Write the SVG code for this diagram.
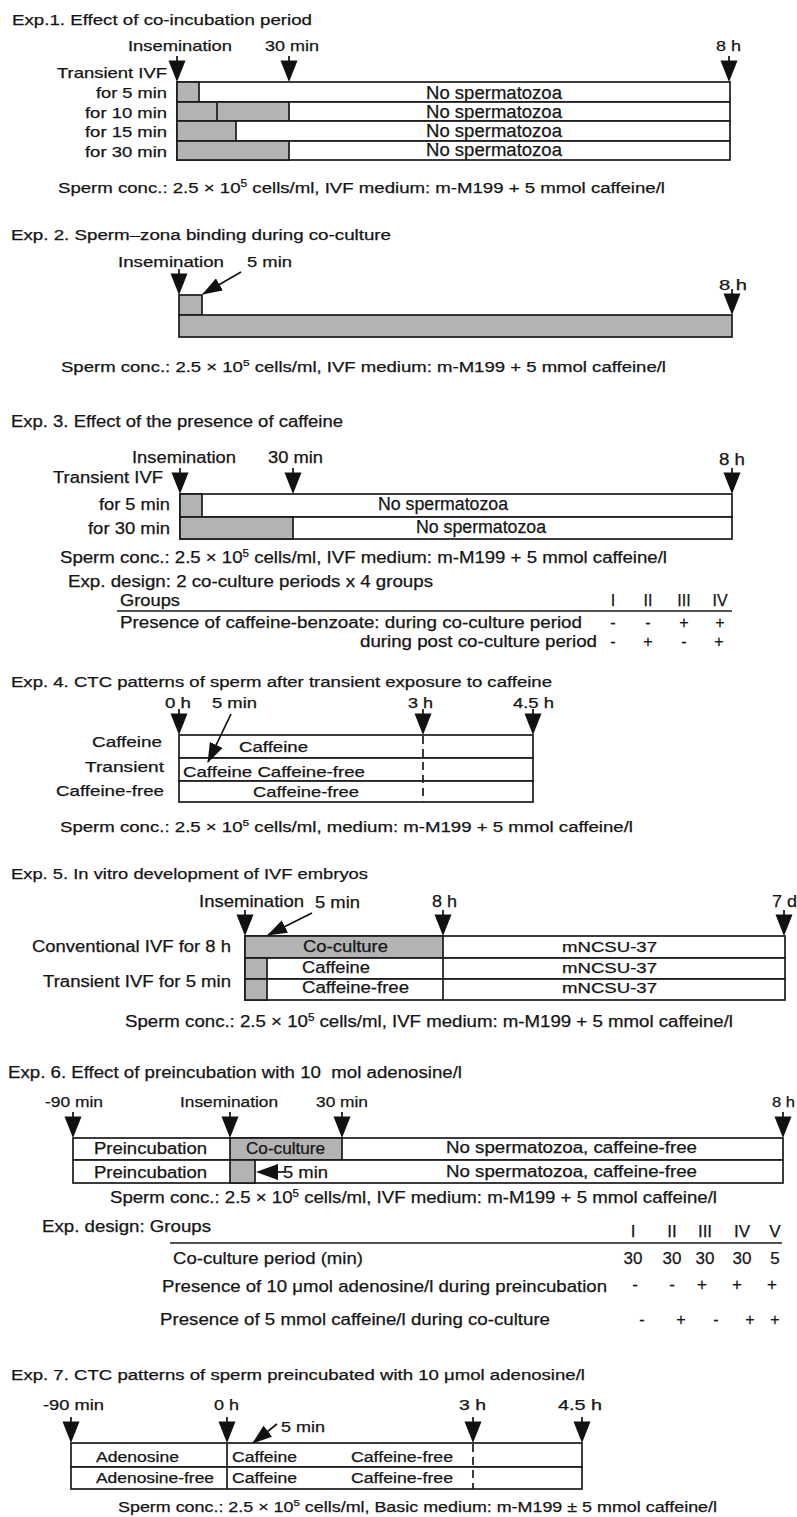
<svg xmlns="http://www.w3.org/2000/svg" width="797" height="1517" viewBox="0 0 797 1517">
<style>
.t{font-family:"Liberation Sans",Arial,Helvetica,sans-serif;fill:#151515;stroke:#151515;stroke-width:0.25}
.f14{font-size:14px}.f15{font-size:15px}.f155{font-size:15.5px}.f16{font-size:16px}.f17{font-size:17px}.f18{font-size:18px}
.m{text-anchor:middle}
.w{fill:#fff;stroke:#1b1b1b;stroke-width:1.7}
.g{fill:#b3b3b3;stroke:#1b1b1b;stroke-width:1.7}
.ln{stroke:#1b1b1b;stroke-width:1.7;fill:none}
.ds{stroke:#1b1b1b;stroke-width:1.7;stroke-dasharray:8 5;fill:none}
.ar{stroke:#111;stroke-width:1.7;fill:none;marker-end:url(#ah)}
.hd{fill:#111}
</style>
<defs>
<marker id="ah" viewBox="0 0 20 14" refX="19" refY="7" markerWidth="20" markerHeight="14" markerUnits="userSpaceOnUse" orient="auto"><path d="M0,0 L20,7 L0,14 Z" fill="#111"/></marker>
<g id="down"><line x1="0" y1="-26" x2="0" y2="-19" stroke="#111" stroke-width="1.7"/><path d="M-8.5,-21.5 L8.5,-21.5 L0,0 Z" fill="#111"/></g>
</defs>

<!-- ===== Exp 1 ===== -->
<g id="exp1">
<text id="e1-title" class="t f155" x="12" y="25" textLength="300" lengthAdjust="spacingAndGlyphs">Exp.1. Effect of co-incubation period</text>
<g id="e1-times">
<text class="t f15" x="128" y="51" textLength="104" lengthAdjust="spacingAndGlyphs">Insemination</text>
<text class="t f15" x="265" y="51" textLength="54" lengthAdjust="spacingAndGlyphs">30 min</text>
<text class="t f15" x="716" y="51" textLength="25" lengthAdjust="spacingAndGlyphs">8 h</text>
</g>
<text id="e1-label" class="t f15" x="57" y="78" textLength="110" lengthAdjust="spacingAndGlyphs">Transient IVF</text>
<g id="e1-row1">
<rect class="w" x="177" y="82" width="553" height="20"/><rect class="g" x="177" y="82" width="22" height="20"/>
<text class="t f15" x="96" y="98" textLength="71" lengthAdjust="spacingAndGlyphs">for 5 min</text>
<text class="t f18" x="426" y="99" textLength="136" lengthAdjust="spacingAndGlyphs">No spermatozoa</text>
</g>
<g id="e1-row2">
<rect class="w" x="177" y="102" width="553" height="19"/><rect class="g" x="177" y="102" width="112" height="19"/>
<line class="ln" x1="217" y1="102" x2="217" y2="121"/>
<text class="t f15" x="85" y="118" textLength="82" lengthAdjust="spacingAndGlyphs">for 10 min</text>
<text class="t f18" x="426" y="118" textLength="136" lengthAdjust="spacingAndGlyphs">No spermatozoa</text>
</g>
<g id="e1-row3">
<rect class="w" x="177" y="121" width="553" height="20"/><rect class="g" x="177" y="121" width="59" height="20"/>
<text class="t f15" x="85" y="137" textLength="82" lengthAdjust="spacingAndGlyphs">for 15 min</text>
<text class="t f18" x="426" y="137" textLength="136" lengthAdjust="spacingAndGlyphs">No spermatozoa</text>
</g>
<g id="e1-row4">
<rect class="w" x="177" y="141" width="553" height="19"/><rect class="g" x="177" y="141" width="112" height="19"/>
<text class="t f15" x="85" y="157" textLength="82" lengthAdjust="spacingAndGlyphs">for 30 min</text>
<text class="t f18" x="426" y="156" textLength="136" lengthAdjust="spacingAndGlyphs">No spermatozoa</text>
</g>
<text id="e1-note" class="t f155" x="58" y="193" textLength="607" lengthAdjust="spacingAndGlyphs">Sperm conc.: 2.5 × 10<tspan dy="-6" font-size="10">5</tspan><tspan dy="6"> cells/ml, IVF medium: m-M199 + 5 mmol caffeine/l</tspan></text>
</g>

<!-- ===== Exp 2 ===== -->
<g id="exp2">
<text id="e2-title" class="t f14" x="11" y="240" textLength="380" lengthAdjust="spacingAndGlyphs">Exp. 2. Sperm–zona binding during co-culture</text>
<g id="e2-times">
<text class="t f14" x="118" y="267" textLength="106" lengthAdjust="spacingAndGlyphs">Insemination</text>
<text class="t f14" x="247" y="267" textLength="45" lengthAdjust="spacingAndGlyphs">5 min</text>
<text class="t f14" x="719" y="290" textLength="28" lengthAdjust="spacingAndGlyphs">8 h</text>
</g>
<g id="e2-box"><rect class="g" x="179" y="295" width="23" height="20"/></g>
<g id="e2-bar"><rect class="g" x="179" y="315" width="553" height="22"/></g>
<text id="e2-note" class="t f14" x="61" y="372" textLength="605" lengthAdjust="spacingAndGlyphs">Sperm conc.: 2.5 × 10<tspan dy="-6" font-size="9">5</tspan><tspan dy="6"> cells/ml, IVF medium: m-M199 + 5 mmol caffeine/l</tspan></text>
</g>

<!-- ===== Exp 3 ===== -->
<g id="exp3">
<text id="e3-title" class="t f16" x="11" y="427" textLength="332" lengthAdjust="spacingAndGlyphs">Exp. 3. Effect of the presence of caffeine</text>
<g id="e3-times">
<text class="t f16" x="132" y="463" textLength="104" lengthAdjust="spacingAndGlyphs">Insemination</text>
<text class="t f16" x="268" y="463" textLength="55" lengthAdjust="spacingAndGlyphs">30 min</text>
<text class="t f16" x="719" y="465" textLength="26" lengthAdjust="spacingAndGlyphs">8 h</text>
</g>
<text id="e3-label" class="t f16" x="53" y="483" textLength="110" lengthAdjust="spacingAndGlyphs">Transient IVF</text>
<g id="e3-row1">
<rect class="w" x="180" y="494" width="552" height="23"/><rect class="g" x="180" y="494" width="22" height="23"/>
<text class="t f16" x="99" y="510" textLength="71" lengthAdjust="spacingAndGlyphs">for 5 min</text>
<text class="t f18" x="378" y="510" textLength="130" lengthAdjust="spacingAndGlyphs">No spermatozoa</text>
</g>
<g id="e3-row2">
<rect class="w" x="180" y="517" width="552" height="22"/><rect class="g" x="180" y="517" width="113" height="22"/>
<text class="t f16" x="88" y="534" textLength="82" lengthAdjust="spacingAndGlyphs">for 30 min</text>
<text class="t f18" x="416" y="533" textLength="130" lengthAdjust="spacingAndGlyphs">No spermatozoa</text>
</g>
<text id="e3-note" class="t f16" x="60" y="563" textLength="607" lengthAdjust="spacingAndGlyphs">Sperm conc.: 2.5 × 10<tspan dy="-6" font-size="10">5</tspan><tspan dy="6"> cells/ml, IVF medium: m-M199 + 5 mmol caffeine/l</tspan></text>
<g id="e3-design">
<text class="t f16" x="68" y="587" textLength="365" lengthAdjust="spacingAndGlyphs">Exp. design: 2 co-culture periods x 4 groups</text>
<text class="t f16" x="120" y="606" textLength="60" lengthAdjust="spacingAndGlyphs">Groups</text>
<text class="t f16 m" x="613" y="606">I</text><text class="t f16 m" x="648" y="606">II</text><text class="t f16 m" x="684" y="606">III</text><text class="t f16 m" x="720" y="606">IV</text>
<line class="ln" x1="117" y1="611" x2="732" y2="611"/>
<text class="t f16" x="120" y="628" textLength="462" lengthAdjust="spacingAndGlyphs">Presence of caffeine-benzoate: during co-culture period</text>
<text class="t f16 m" x="613" y="628">-</text><text class="t f16 m" x="648" y="628">-</text><text class="t f16 m" x="684" y="628">+</text><text class="t f16 m" x="720" y="628">+</text>
<text class="t f16" x="360" y="647" textLength="237" lengthAdjust="spacingAndGlyphs">during post co-culture period</text>
<text class="t f16 m" x="613" y="647">-</text><text class="t f16 m" x="648" y="647">+</text><text class="t f16 m" x="684" y="647">-</text><text class="t f16 m" x="719" y="647">+</text>
</g>
</g>

<!-- ===== Exp 4 ===== -->
<g id="exp4">
<text id="e4-title" class="t f14" x="11" y="687" textLength="541" lengthAdjust="spacingAndGlyphs">Exp. 4. CTC patterns of sperm after transient exposure to caffeine</text>
<g id="e4-times">
<text class="t f14" x="165" y="708" textLength="26" lengthAdjust="spacingAndGlyphs">0 h</text>
<text class="t f14" x="212" y="708" textLength="45" lengthAdjust="spacingAndGlyphs">5 min</text>
<text class="t f14" x="408" y="708" textLength="25" lengthAdjust="spacingAndGlyphs">3 h</text>
<text class="t f14" x="513" y="708" textLength="41" lengthAdjust="spacingAndGlyphs">4.5 h</text>
</g>
<g id="e4-row1">
<rect class="w" x="179" y="735" width="354" height="23"/>
<text class="t f15" x="92" y="747" textLength="70" lengthAdjust="spacingAndGlyphs">Caffeine</text>
<text class="t f15" x="239" y="752" textLength="69" lengthAdjust="spacingAndGlyphs">Caffeine</text>
</g>
<g id="e4-row2">
<rect class="w" x="179" y="758" width="354" height="23"/>
<text class="t f15" x="85" y="772" textLength="79" lengthAdjust="spacingAndGlyphs">Transient</text>
<text class="t f15" x="183" y="777" textLength="182" lengthAdjust="spacingAndGlyphs">Caffeine Caffeine-free</text>
</g>
<g id="e4-row3">
<rect class="w" x="179" y="781" width="354" height="21"/>
<text class="t f15" x="56" y="796" textLength="108" lengthAdjust="spacingAndGlyphs">Caffeine-free</text>
<text class="t f15" x="253" y="797" textLength="106" lengthAdjust="spacingAndGlyphs">Caffeine-free</text>
</g>
<line id="e4-3h" class="ds" x1="423" y1="736" x2="423" y2="802"/>
<text id="e4-note" class="t f14" x="60" y="832" textLength="573" lengthAdjust="spacingAndGlyphs">Sperm conc.: 2.5 × 10<tspan dy="-6" font-size="9">5</tspan><tspan dy="6"> cells/ml, medium: m-M199 + 5 mmol caffeine/l</tspan></text>
</g>

<!-- ===== Exp 5 ===== -->
<g id="exp5">
<text id="e5-title" class="t f155" x="11" y="879" textLength="357" lengthAdjust="spacingAndGlyphs">Exp. 5. In vitro development of IVF embryos</text>
<g id="e5-times">
<text class="t f16" x="199" y="907" textLength="105" lengthAdjust="spacingAndGlyphs">Insemination</text>
<text class="t f16" x="315" y="908" textLength="45" lengthAdjust="spacingAndGlyphs">5 min</text>
<text class="t f16" x="432" y="907" textLength="25" lengthAdjust="spacingAndGlyphs">8 h</text>
<text class="t f16" x="772" y="907" textLength="25" lengthAdjust="spacingAndGlyphs">7 d</text>
</g>
<g id="e5-row1">
<rect class="w" x="245" y="936" width="540" height="22"/><rect class="g" x="245" y="936" width="198" height="22"/>
<text class="t f16" x="32" y="952" textLength="199" lengthAdjust="spacingAndGlyphs">Conventional IVF for 8 h</text>
<text class="t f16" x="303" y="952" textLength="85" lengthAdjust="spacingAndGlyphs">Co-culture</text>
<text class="t f15" x="562" y="952" textLength="95" lengthAdjust="spacingAndGlyphs">mNCSU-37</text>
</g>
<text id="e5-label" class="t f16" x="43" y="987" textLength="188" lengthAdjust="spacingAndGlyphs">Transient IVF for 5 min</text>
<g id="e5-row2">
<rect class="w" x="245" y="958" width="540" height="21"/><rect class="g" x="245" y="958" width="22" height="21"/>
<line class="ln" x1="443" y1="958" x2="443" y2="979"/>
<text class="t f16" x="302" y="973" textLength="68" lengthAdjust="spacingAndGlyphs">Caffeine</text>
<text class="t f15" x="562" y="973" textLength="95" lengthAdjust="spacingAndGlyphs">mNCSU-37</text>
</g>
<g id="e5-row3">
<rect class="w" x="245" y="979" width="540" height="21"/><rect class="g" x="245" y="979" width="22" height="21"/>
<line class="ln" x1="443" y1="979" x2="443" y2="1000"/>
<text class="t f16" x="302" y="993" textLength="107" lengthAdjust="spacingAndGlyphs">Caffeine-free</text>
<text class="t f15" x="562" y="993" textLength="95" lengthAdjust="spacingAndGlyphs">mNCSU-37</text>
</g>
<text id="e5-note" class="t f16" x="125" y="1027" textLength="608" lengthAdjust="spacingAndGlyphs">Sperm conc.: 2.5 × 10<tspan dy="-6" font-size="10">5</tspan><tspan dy="6"> cells/ml, IVF medium: m-M199 + 5 mmol caffeine/l</tspan></text>
</g>

<!-- ===== Exp 6 ===== -->
<g id="exp6">
<text id="e6-title" class="t f16" x="8" y="1078" textLength="454" lengthAdjust="spacingAndGlyphs" style="white-space:pre">Exp. 6. Effect of preincubation with 10  mol adenosine/l</text>
<g id="e6-times">
<text class="t f155" x="45" y="1107" textLength="58" lengthAdjust="spacingAndGlyphs">-90 min</text>
<text class="t f155" x="180" y="1107" textLength="98" lengthAdjust="spacingAndGlyphs">Insemination</text>
<text class="t f155" x="316" y="1107" textLength="52" lengthAdjust="spacingAndGlyphs">30 min</text>
<text class="t f155" x="772" y="1107" textLength="23" lengthAdjust="spacingAndGlyphs">8 h</text>
</g>
<g id="e6-row1">
<rect class="w" x="73" y="1138" width="710" height="22"/><rect class="g" x="230" y="1138" width="112" height="22"/>
<text class="t f16" x="94" y="1154" textLength="113" lengthAdjust="spacingAndGlyphs">Preincubation</text>
<text class="t f16" x="246" y="1154" textLength="79" lengthAdjust="spacingAndGlyphs">Co-culture</text>
<text class="t f16" x="446" y="1153" textLength="251" lengthAdjust="spacingAndGlyphs">No spermatozoa, caffeine-free</text>
</g>
<g id="e6-row2">
<rect class="w" x="73" y="1160" width="710" height="23"/><rect class="g" x="230" y="1160" width="25" height="23"/>
<text class="t f16" x="94" y="1178" textLength="113" lengthAdjust="spacingAndGlyphs">Preincubation</text>
<text class="t f16" x="283" y="1178" textLength="45" lengthAdjust="spacingAndGlyphs">5 min</text>
<text class="t f16" x="446" y="1177" textLength="251" lengthAdjust="spacingAndGlyphs">No spermatozoa, caffeine-free</text>
</g>
<text id="e6-note" class="t f16" x="110" y="1203" textLength="607" lengthAdjust="spacingAndGlyphs">Sperm conc.: 2.5 × 10<tspan dy="-6" font-size="10">5</tspan><tspan dy="6"> cells/ml, IVF medium: m-M199 + 5 mmol caffeine/l</tspan></text>
<g id="e6-design">
<text class="t f16" x="42" y="1232" textLength="169" lengthAdjust="spacingAndGlyphs">Exp. design: Groups</text>
<text class="t f17 m" x="633" y="1237">I</text><text class="t f17 m" x="672" y="1237">II</text><text class="t f17 m" x="705" y="1237">III</text><text class="t f17 m" x="742" y="1237">IV</text><text class="t f17 m" x="775" y="1237">V</text>
<line class="ln" x1="170" y1="1243" x2="782" y2="1243"/>
<text class="t f17" x="173" y="1264" textLength="190" lengthAdjust="spacingAndGlyphs">Co-culture period (min)</text>
<text class="t f17 m" x="633" y="1264">30</text><text class="t f17 m" x="672" y="1264">30</text><text class="t f17 m" x="705" y="1264">30</text><text class="t f17 m" x="742" y="1264">30</text><text class="t f17 m" x="775" y="1264">5</text>
<text class="t f17" x="162" y="1292" textLength="445" lengthAdjust="spacingAndGlyphs">Presence of 10 μmol adenosine/l during preincubation</text>
<text class="t f17 m" x="635" y="1290">-</text><text class="t f17 m" x="672" y="1290">-</text><text class="t f17 m" x="702" y="1290">+</text><text class="t f17 m" x="737" y="1290">+</text><text class="t f17 m" x="772" y="1290">+</text>
<text class="t f16" x="160" y="1325" textLength="390" lengthAdjust="spacingAndGlyphs">Presence of 5 mmol caffeine/l during co-culture</text>
<text class="t f16 m" x="642" y="1325">-</text><text class="t f16 m" x="681" y="1325">+</text><text class="t f16 m" x="716" y="1325">-</text><text class="t f16 m" x="750" y="1325">+</text><text class="t f16 m" x="775" y="1325">+</text>
</g>
</g>

<!-- ===== Exp 7 ===== -->
<g id="exp7">
<text id="e7-title" class="t f14" x="11" y="1380" textLength="574" lengthAdjust="spacingAndGlyphs">Exp. 7. CTC patterns of sperm preincubated with 10 μmol adenosine/l</text>
<g id="e7-times">
<text class="t f14" x="43" y="1410" textLength="61" lengthAdjust="spacingAndGlyphs">-90 min</text>
<text class="t f14" x="214" y="1410" textLength="25" lengthAdjust="spacingAndGlyphs">0 h</text>
<text class="t f14" x="459" y="1410" textLength="27" lengthAdjust="spacingAndGlyphs">3 h</text>
<text class="t f14" x="558" y="1410" textLength="44" lengthAdjust="spacingAndGlyphs">4.5 h</text>
<text class="t f14" x="281" y="1432" textLength="44" lengthAdjust="spacingAndGlyphs">5 min</text>
</g>
<g id="e7-row1">
<rect class="w" x="71" y="1443" width="511" height="24"/>
<line class="ln" x1="227" y1="1443" x2="227" y2="1467"/>
<text class="t f14" x="96" y="1462" textLength="83" lengthAdjust="spacingAndGlyphs">Adenosine</text>
<text class="t f14" x="232" y="1462" textLength="65" lengthAdjust="spacingAndGlyphs">Caffeine</text>
<text class="t f14" x="351" y="1462" textLength="102" lengthAdjust="spacingAndGlyphs">Caffeine-free</text>
</g>
<g id="e7-row2">
<rect class="w" x="71" y="1467" width="511" height="22"/>
<line class="ln" x1="227" y1="1467" x2="227" y2="1489"/>
<text class="t f14" x="96" y="1483" textLength="118" lengthAdjust="spacingAndGlyphs">Adenosine-free</text>
<text class="t f14" x="232" y="1483" textLength="65" lengthAdjust="spacingAndGlyphs">Caffeine</text>
<text class="t f14" x="351" y="1483" textLength="102" lengthAdjust="spacingAndGlyphs">Caffeine-free</text>
</g>
<line id="e7-3h" class="ds" x1="473" y1="1444" x2="473" y2="1489"/>
<text id="e7-note" class="t f14" x="118" y="1512" textLength="599" lengthAdjust="spacingAndGlyphs">Sperm conc.: 2.5 × 10<tspan dy="-6" font-size="9">5</tspan><tspan dy="6"> cells/ml, Basic medium: m-M199 ± 5 mmol caffeine/l</tspan></text>
</g>

<!-- ===== Connectors ===== -->
<g id="connectors">
<use href="#down" x="177" y="82"/><use href="#down" x="289" y="82"/><use href="#down" x="729" y="82"/>
<use href="#down" x="179" y="295"/><use href="#down" x="732" y="315"/>
<line class="ar" x1="241" y1="272" x2="203" y2="294"/>
<use href="#down" x="180" y="494"/><use href="#down" x="293" y="494"/><use href="#down" x="732" y="494"/>
<use href="#down" x="179" y="735"/><use href="#down" x="423" y="735"/><use href="#down" x="533" y="735"/>
<line class="ar" x1="231" y1="714" x2="208" y2="762"/>
<use href="#down" x="245" y="936"/><use href="#down" x="443" y="936"/><use href="#down" x="784" y="936"/>
<line class="ar" x1="312" y1="913" x2="268" y2="935"/>
<use href="#down" x="73" y="1138"/><use href="#down" x="230" y="1138"/><use href="#down" x="342" y="1138"/><use href="#down" x="783" y="1138"/>
<path class="hd" d="M256,1172 L278,1164 L278,1180 Z"/><line class="ln" x1="276" y1="1172" x2="284" y2="1172"/>
<use href="#down" x="71" y="1443"/><use href="#down" x="227" y="1443"/><use href="#down" x="473" y="1443"/><use href="#down" x="582" y="1443"/>
<line class="ar" x1="277" y1="1424" x2="253" y2="1443"/>
</g>
</svg>
